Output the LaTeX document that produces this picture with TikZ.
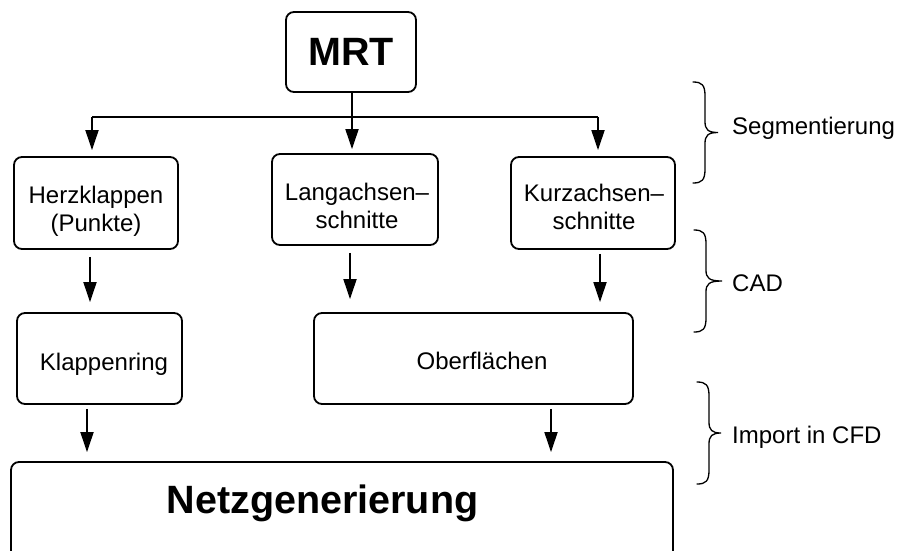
\documentclass[tikz,border=0pt]{standalone}
\usepackage{fontspec}
\setmainfont{Liberation Sans}
\usetikzlibrary{arrows.meta}

% curly brace opening to the right: #1 = x of the hooks, #2 = top, #3 = bottom, #4 = x of the tip
\newcommand\stagebrace[4]{%
  \pgfmathsetmacro\bx{#1+12}%
  \pgfmathsetmacro\bm{(#2+#3)/2}%
  \draw[brc] (#1,#2) .. controls (#1+9,#2) and (\bx,#2+3) .. (\bx,#2+14)
    -- (\bx,\bm-11) .. controls (\bx,\bm-3) and (\bx+3,\bm) .. (#4,\bm)
    .. controls (\bx+3,\bm) and (\bx,\bm+3) .. (\bx,\bm+11)
    -- (\bx,#3-14) .. controls (\bx,#3-3) and (#1+9,#3) .. (#1,#3);%
}

\begin{document}
\begin{tikzpicture}[x=1pt,y=-1pt,
  box/.style={draw, line width=1.8pt, rounded corners=8pt, inner sep=0pt},
  txt/.style={font=\fontsize{24}{28}\selectfont, align=center, inner sep=0pt},
  big/.style={font=\fontsize{39.5}{44}\selectfont\bfseries, inner sep=0pt},
  conn/.style={line width=1.8pt},
  arr/.style={conn, -{Triangle[length=20pt,width=13pt]}},
  brc/.style={line width=1.3pt, line cap=round},
]
\useasboundingbox (0,0) rectangle (899,550);
\begin{scope}
\clip (0,0) rectangle (899,550);

% boxes
\node[box, big, minimum width=130, minimum height=80] (mrt) at (351,52) {MRT};

\node[box, minimum width=164, minimum height=92] (herz) at (96,203) {};
\node[txt] (herzlbl) at (96,211) {Herzklappen\\(Punkte)};

\node[box, minimum width=166, minimum height=91] (lang) at (355,199.5) {};
\node[txt] (langlbl) at (357,206) {Langachsen–\\schnitte};

\node[box, minimum width=164, minimum height=92] (kurz) at (593,203) {};
\node[txt] (kurzlbl) at (594,207) {Kurzachsen–\\schnitte};

\node[box, minimum width=165, minimum height=91] (ring) at (99.5,358.5) {};
\node[txt] (ringlbl) at (104,364) {Klappenring};

\node[box, minimum width=319, minimum height=91] (ober) at (473.5,358.5) {};
\node[txt] (oberlbl) at (482,361) {Oberflächen};

\node[box, minimum width=662, minimum height=110] (netz) at (342,517) {};
\node[big] (netzlbl) at (322.5,503) {Netzgenerierung};

% splitting from MRT into the three views
\coordinate (split) at (352,117);
\draw[conn] (mrt.south -| split) -- (split);
\draw[conn] (92,117) coordinate (splitL) -- (598,117) coordinate (splitR);
\draw[arr, shorten >=6pt] (splitL) -- (herz.north -| splitL);
\draw[arr, shorten >=4pt] (split) -- (lang.north -| split);
\draw[arr, shorten >=6pt] (splitR) -- (kurz.north -| splitR);

% second to third row
\draw[arr, shorten <=7pt, shorten >=10pt] (herz.south -| 90,0) -- (ring.north -| 90,0);
\draw[arr, shorten <=7pt, shorten >=13pt] (lang.south -| 350,0) -- (ober.north -| 350,0);
\draw[arr, shorten <=4pt, shorten >=10pt] (kurz.south -| 600,0) -- (ober.north -| 600,0);

% third row to mesh generation
\draw[arr, shorten <=4pt, shorten >=9pt] (ring.south -| 87,0) -- (netz.north -| 87,0);
\draw[arr, shorten <=4pt, shorten >=9pt] (ober.south -| 551,0) -- (netz.north -| 551,0);

% stage braces and their labels
\stagebrace{693}{82}{183}{718}
\stagebrace{694}{230}{332}{722}
\stagebrace{697}{382}{484}{721}
\node[txt, anchor=base west] (seg) at (732,134) {Segmentierung};
\node[txt, anchor=base west] (cad) at (732,291) {CAD};
\node[txt, anchor=base west] (imp) at (732,443) {Import in CFD};
\end{scope}
\end{tikzpicture}
\end{document}
